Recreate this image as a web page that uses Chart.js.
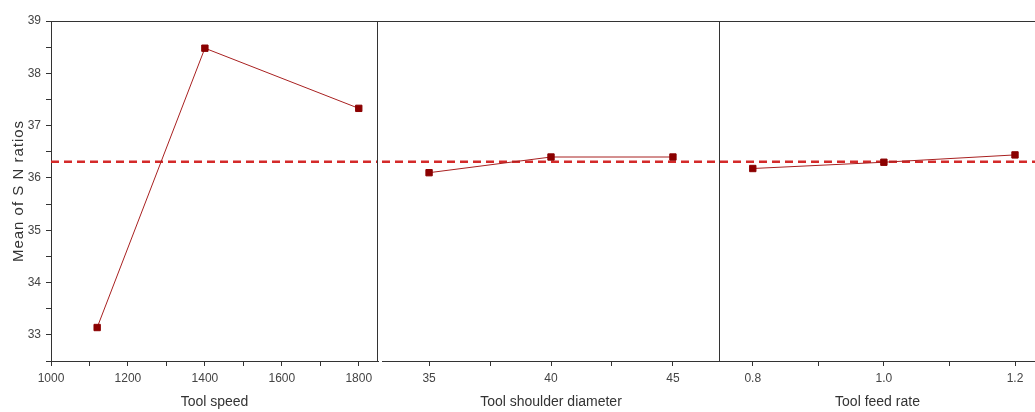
<!DOCTYPE html>
<html>
<head>
<meta charset="utf-8">
<script src="https://cdn.jsdelivr.net/npm/chart.js@4.4.1/dist/chart.umd.min.js"></script>
<style>
  html, body { margin: 0; padding: 0; background: #fff; }
  #wrap { position: relative; width: 1035px; height: 412px; overflow: hidden; background: #fff; }
  canvas { position: absolute; top: 0; }
</style>
</head>
<body>
<div id="wrap">
  <canvas id="c1" width="380" height="412" style="left:0px"></canvas>
  <canvas id="c2" width="344" height="412" style="left:378px"></canvas>
  <canvas id="c3" width="317" height="412" style="left:718px"></canvas>
</div>
<script>
// main effects for S/N ratios
const speedLevels = [1120, 1400, 1800];
const speedSN = [33.14, 38.48, 37.33];
const shoulderLevels = [35, 40, 45];
const shoulderSN = [36.10, 36.40, 36.40];
const feedLevels = [0.8, 1.0, 1.2];
const feedSN = [36.18, 36.30, 36.44];
const meanSN = 36.31;

// axis ticks
const snTicks = [32.5, 33, 33.5, 34, 34.5, 35, 35.5, 36, 36.5, 37, 37.5, 38, 38.5, 39];
const snLabels = [33, 34, 35, 36, 37, 38, 39];
const speedTicks = [1000, 1100, 1200, 1300, 1400, 1500, 1600, 1700, 1800];
const speedLabels = [1000, 1200, 1400, 1600, 1800];
const shoulderTicks = [35, 37.5, 40, 42.5, 45];
const shoulderLabels = [35, 40, 45];
const feedTicks = [0.8, 0.9, 1.0, 1.1, 1.2];
const feedLabels = [0.8, 1.0, 1.2];

const FONT = "'Liberation Sans Narrow', 'Liberation Sans', Arial, sans-serif";
const AXIS = '#333';

// draws the box lines chart.js does not draw itself, plus the spaced y title
const framePlugin = {
    id: 'frame',
    afterDraw(chart, args, opts) {
        const { ctx, chartArea: a } = chart;
        const sides = opts.sides || [];
        ctx.save();
        ctx.strokeStyle = AXIS;
        ctx.lineWidth = 1;
        ctx.beginPath();
        if (sides.includes('top')) {
            ctx.moveTo(a.left - (opts.extendLeft || 0), Math.round(a.top) + 0.5);
            ctx.lineTo(a.right, Math.round(a.top) + 0.5);
        }
        if (sides.includes('right')) {
            ctx.moveTo(Math.round(a.right) - 0.5, a.top);
            ctx.lineTo(Math.round(a.right) - 0.5, a.bottom);
        }
        ctx.stroke();

        if (opts.yTitle) {
            ctx.translate(19, (a.top + a.bottom) / 2);
            ctx.rotate(-Math.PI / 2);
            ctx.letterSpacing = '1px';
            ctx.font = '15px ' + FONT;
            ctx.fillStyle = '#333';
            ctx.textAlign = 'center';
            ctx.textBaseline = 'middle';
            ctx.fillText(opts.yTitle, 0, 0);
        }
        ctx.restore();
    }
};

function fixedTicks(list) {
    return scale => { scale.ticks = list.map(v => ({ value: v })); };
}

function makePanel(id, cfg) {
    const ctx = document.getElementById(id).getContext('2d');
    return new Chart(ctx, {
        type: 'line',
        data: {
            datasets: [
                {
                    data: [{ x: cfg.min, y: meanSN }, { x: cfg.max, y: meanSN }],
                    borderColor: '#d42a2a',
                    borderWidth: 2.5,
                    borderDash: [8, 5],
                    pointRadius: 0,
                    order: 2
                },
                {
                    data: cfg.levels.map((x, i) => ({ x: x, y: cfg.values[i] })),
                    borderColor: '#a82020',
                    borderWidth: 1,
                    pointStyle: 'rect',
                    pointRadius: 4.5,
                    pointBorderWidth: 1,
                    pointBackgroundColor: '#8b0000',
                    pointBorderColor: '#8b0000',
                    order: 1
                }
            ]
        },
        options: {
            responsive: false,
            animation: false,
            layout: { padding: cfg.padding, autoPadding: false },
            plugins: {
                legend: { display: false },
                tooltip: { enabled: false },
                frame: {
                    sides: cfg.sides,
                    extendLeft: cfg.extendLeft || 0,
                    yTitle: cfg.showY ? 'Mean of S N ratios' : ''
                }
            },
            scales: {
                x: {
                    type: 'linear',
                    min: cfg.min,
                    max: cfg.max,
                    afterBuildTicks: fixedTicks(cfg.ticks),
                    afterFit: s => { s.height = 51; },
                    grid: { drawOnChartArea: false, drawTicks: true, tickLength: 5, color: AXIS },
                    border: { display: true, color: AXIS, width: 1 },
                    ticks: {
                        padding: 5,
                        color: '#444',
                        font: { family: FONT, size: 12 },
                        autoSkip: false,
                        maxRotation: 0,
                        callback: v => cfg.labels.includes(v) ? cfg.fmt(v) : ''
                    },
                    title: {
                        display: true,
                        text: cfg.title,
                        color: '#333',
                        font: { family: FONT, size: 14 },
                        padding: { top: 0, bottom: 1 }
                    }
                },
                y: {
                    display: cfg.showY,
                    min: 32.5,
                    max: 39,
                    afterBuildTicks: fixedTicks(snTicks),
                    afterFit: s => { s.width = cfg.showY ? 51 : 0; },
                    grid: { drawOnChartArea: false, drawTicks: true, tickLength: 5, color: AXIS },
                    border: { display: true, color: AXIS, width: 1 },
                    ticks: {
                        padding: 5,
                        color: '#444',
                        font: { family: FONT, size: 12 },
                        autoSkip: false,
                        callback: v => snLabels.includes(v) ? String(v) : ''
                    },
                    title: { display: false }
                }
            }
        },
        plugins: [framePlugin]
    });
}

makePanel('c1', {
    levels: speedLevels, values: speedSN,
    min: 1000, max: 1850,
    ticks: speedTicks, labels: speedLabels, fmt: v => String(v),
    title: 'Tool speed',
    showY: true,
    padding: { top: 21, right: 2, left: 0, bottom: 0 },
    sides: ['top', 'right']
});

makePanel('c2', {
    levels: shoulderLevels, values: shoulderSN,
    min: 33.07, max: 46.93,
    ticks: shoulderTicks, labels: shoulderLabels, fmt: v => String(v),
    title: 'Tool shoulder diameter',
    showY: false,
    padding: { top: 21, right: 2, left: 4, bottom: 0 },
    sides: ['top', 'right'],
    extendLeft: 4
});

makePanel('c3', {
    levels: feedLevels, values: feedSN,
    min: 0.75, max: 1.2305,
    ticks: feedTicks, labels: feedLabels, fmt: v => v.toFixed(1),
    title: 'Tool feed rate',
    showY: false,
    padding: { top: 21, right: 0, left: 2, bottom: 0 },
    sides: ['top']
});
</script>
</body>
</html>
